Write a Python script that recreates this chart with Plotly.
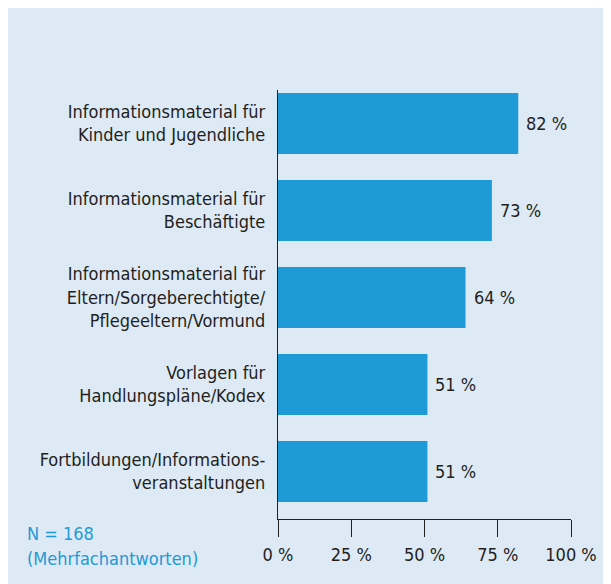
import plotly.graph_objects as go

categories = [
    "Informationsmaterial für<br>Kinder und Jugendliche",
    "Informationsmaterial für<br>Beschäftigte",
    "Informationsmaterial für<br>Eltern/Sorgeberechtigte/<br>Pflegeeltern/Vormund",
    "Vorlagen für<br>Handlungspläne/Kodex",
    "Fortbildungen/Informations-<br>veranstaltungen",
]
values = [82, 73, 64, 51, 51]
tick_vals = [0, 25, 50, 75, 100]
tick_text = ["0 %", "25 %", "50 %", "75 %", "100 %"]
note_lines = ["N = 168", "(Mehrfachantworten)"]

BLUE = "#1e9ad6"
BG = "#dde9f5"
TXT = "#231f20"
FONT = "Liberation Sans Narrow, DejaVu Sans Condensed, Roboto Condensed, Arial Narrow, sans-serif"
FS = 18

fig = go.Figure()
fig.add_trace(go.Bar(
    x=values, y=categories, orientation="h",
    marker=dict(color=BLUE, line=dict(width=0)),
    hoverinfo="skip", cliponaxis=False,
))

for v, c in zip(values, categories):
    fig.add_annotation(x=v, y=c, xref="x", yref="y", text=f"{v} %",
                       showarrow=False, xanchor="left", yanchor="middle",
                       xshift=6, font=dict(family=FONT, size=FS, color=TXT))

# figure coordinates (page body adds 8px offset)
L, R, T, B = 270, 563, 82, 511
W, H = R - L, B - T
def px_x(px):
    return (px - L) / W
def px_y(py):
    return (B - py) / H

for i, (line, py) in enumerate(zip(note_lines, [525, 550])):
    fig.add_annotation(x=px_x(17), y=px_y(py), xref="paper", yref="paper",
                       text=line, showarrow=False, xanchor="left", yanchor="middle",
                       font=dict(family=FONT, size=FS, color=BLUE))

fig.update_layout(
    width=611, height=584,
    margin=dict(l=L, r=611 - R, t=T, b=584 - B, pad=0, autoexpand=False),
    paper_bgcolor=BG, plot_bgcolor=BG,
    showlegend=False, bargap=0.3,
    font=dict(family=FONT, size=FS, color=TXT),
    xaxis=dict(range=[0, 100], tickvals=tick_vals, ticktext=tick_text,
               showgrid=False, zeroline=False, showline=True, automargin=False,
               linecolor=TXT, linewidth=1.3, ticks="outside", ticklen=17,
               tickwidth=1.3, tickcolor=TXT, ticklabelstandoff=2,
               tickfont=dict(family=FONT, size=FS, color=TXT), fixedrange=True),
    yaxis=dict(categoryorder="array", categoryarray=categories,
               range=[4.546, -0.385], showgrid=False, zeroline=False,
               showline=True, linecolor=TXT, linewidth=1.3, ticks="",
               ticklabelstandoff=8, automargin=False,
               tickfont=dict(family=FONT, size=FS, color=TXT), fixedrange=True),
)

fig.write_html("out.html")
